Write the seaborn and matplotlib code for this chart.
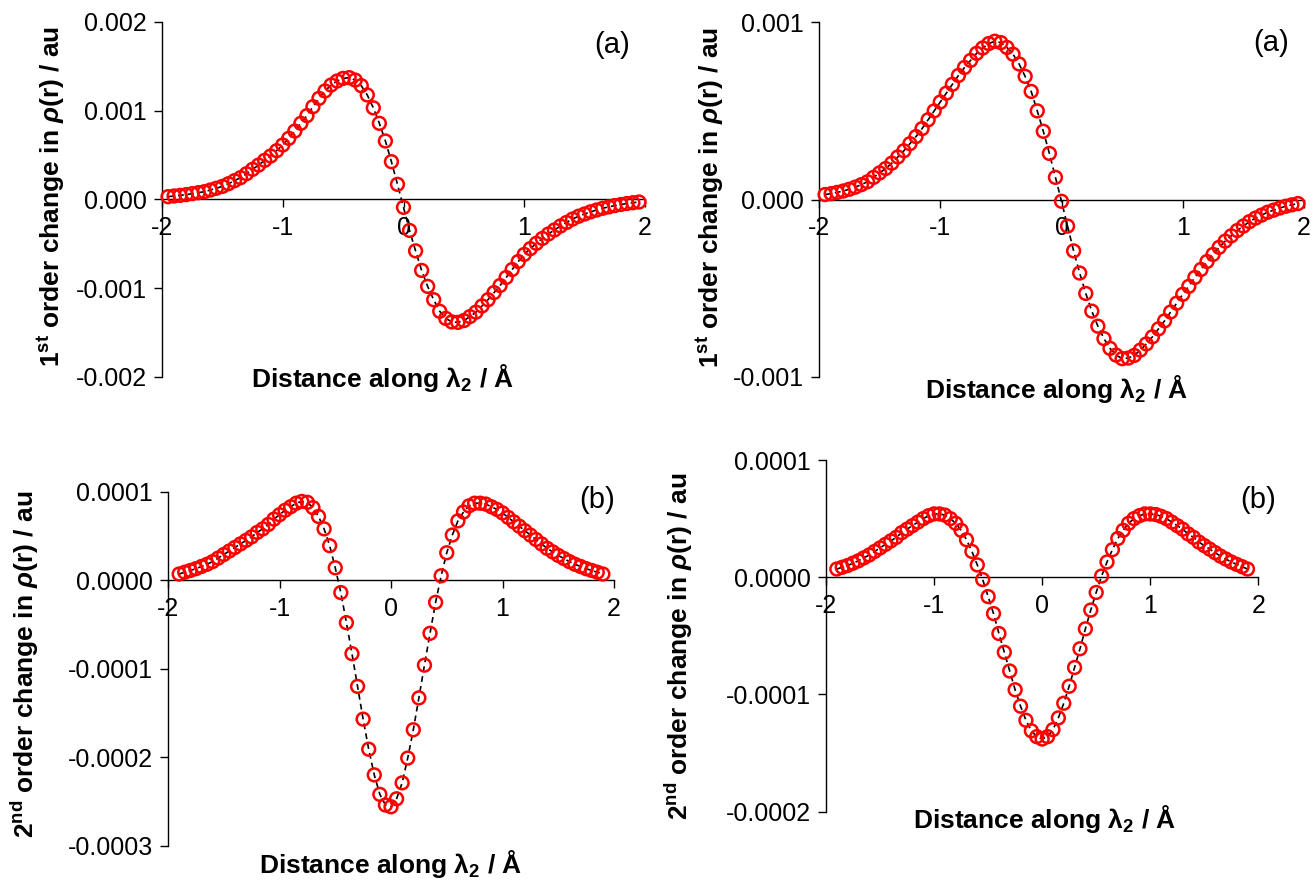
import numpy as np
import pandas as pd
import matplotlib
matplotlib.use("Agg")
import matplotlib.pyplot as plt
import seaborn as sns
from matplotlib.ticker import FormatStrFormatter

# ---------------------------------------------------------------------------
# Sample positions along lambda_2 (Angstrom)
x_first = np.round(np.linspace(-1.95, 1.95, 79), 2)
x_second = np.round(np.linspace(-1.90, 1.90, 77), 2)

# First-order change in rho(r), system A (units of 1e-3 au)
first_a = [
    0.030, 0.038, 0.045, 0.053, 0.064, 0.075, 0.086, 0.105, 0.125, 0.146,
    0.176, 0.210, 0.244, 0.289, 0.338, 0.386, 0.439, 0.488, 0.548, 0.612,
    0.687, 0.769, 0.856, 0.942, 1.043, 1.137, 1.220, 1.287, 1.332, 1.362,
    1.370, 1.343, 1.280, 1.175, 1.030, 0.856, 0.657, 0.424, 0.169, -0.090,
    -0.350, -0.580, -0.800, -0.980, -1.130, -1.260, -1.340, -1.380, -1.385, -1.365,
    -1.320, -1.270, -1.200, -1.130, -1.050, -0.970, -0.880, -0.790, -0.700, -0.620,
    -0.555, -0.495, -0.440, -0.390, -0.345, -0.300, -0.260, -0.222, -0.190, -0.165,
    -0.140, -0.120, -0.100, -0.085, -0.070, -0.058, -0.047, -0.038, -0.030,
]

# First-order change in rho(r), system B (units of 1e-3 au)
first_b = [
    0.028, 0.033, 0.040, 0.048, 0.058, 0.070, 0.084, 0.100, 0.125, 0.150,
    0.175, 0.205, 0.240, 0.275, 0.315, 0.355, 0.400, 0.450, 0.500, 0.550,
    0.600, 0.650, 0.700, 0.745, 0.785, 0.825, 0.855, 0.880, 0.893, 0.885,
    0.858, 0.820, 0.765, 0.695, 0.610, 0.500, 0.385, 0.260, 0.125, -0.010,
    -0.150, -0.290, -0.415, -0.530, -0.630, -0.715, -0.785, -0.840, -0.878, -0.898,
    -0.895, -0.880, -0.850, -0.815, -0.775, -0.730, -0.685, -0.635, -0.585, -0.535,
    -0.490, -0.440, -0.395, -0.350, -0.310, -0.270, -0.235, -0.205, -0.175, -0.150,
    -0.125, -0.105, -0.088, -0.072, -0.060, -0.048, -0.038, -0.030, -0.023,
]

# Second-order change in rho(r), system A (units of 1e-4 au)
second_a = [
    0.07, 0.09, 0.11, 0.13, 0.155, 0.18, 0.21, 0.25, 0.29, 0.33,
    0.37, 0.41, 0.45, 0.49, 0.54, 0.58, 0.63, 0.69, 0.74, 0.79,
    0.83, 0.87, 0.89, 0.88, 0.82, 0.72, 0.58, 0.39, 0.14, -0.14,
    -0.48, -0.83, -1.20, -1.57, -1.91, -2.20, -2.42, -2.54, -2.56, -2.47,
    -2.29, -2.01, -1.69, -1.33, -0.96, -0.60, -0.25, 0.05, 0.31, 0.51,
    0.67, 0.77, 0.84, 0.87, 0.87, 0.86, 0.83, 0.80, 0.76, 0.71,
    0.66, 0.61, 0.56, 0.51, 0.46, 0.41, 0.36, 0.32, 0.28, 0.245,
    0.21, 0.18, 0.155, 0.13, 0.11, 0.09, 0.07,
]

# Second-order change in rho(r), system B (units of 1e-4 au)
second_b = [
    0.07, 0.085, 0.10, 0.12, 0.14, 0.165, 0.19, 0.22, 0.25, 0.28,
    0.31, 0.34, 0.38, 0.41, 0.44, 0.47, 0.50, 0.525, 0.54, 0.54,
    0.53, 0.50, 0.46, 0.40, 0.32, 0.22, 0.105, -0.02, -0.165, -0.31,
    -0.48, -0.64, -0.80, -0.96, -1.10, -1.22, -1.31, -1.36, -1.38, -1.36,
    -1.30, -1.20, -1.075, -0.93, -0.77, -0.61, -0.44, -0.28, -0.13, 0.01,
    0.13, 0.235, 0.33, 0.40, 0.46, 0.50, 0.525, 0.54, 0.54, 0.535,
    0.52, 0.50, 0.47, 0.44, 0.41, 0.37, 0.34, 0.30, 0.27, 0.24,
    0.21, 0.18, 0.155, 0.13, 0.11, 0.09, 0.07,
]

x_ticks = [-2, -1, 0, 1, 2]
panel_letters = ["(a)", "(a)", "(b)", "(b)"]
ylabel_first = r"1$^\mathrm{st}$ order change in $\rho$(r) / au"
ylabel_second = r"2$^\mathrm{nd}$ order change in $\rho$(r) / au"
xlabel_text = r"Distance along λ$_\mathrm{2}$ / Å"

# ---------------------------------------------------------------------------
sns.set_style("ticks")
plt.rcParams["font.family"] = ["Liberation Sans", "DejaVu Sans"]
plt.rcParams["axes.unicode_minus"] = False
plt.rcParams["text.color"] = "black"
plt.rcParams["axes.labelcolor"] = "black"
plt.rcParams["xtick.color"] = "black"
plt.rcParams["ytick.color"] = "black"
plt.rcParams["mathtext.fontset"] = "custom"
plt.rcParams["mathtext.rm"] = "Liberation Sans:bold"
plt.rcParams["mathtext.it"] = "Liberation Sans:bold:italic"
plt.rcParams["mathtext.bf"] = "Liberation Sans:bold"

W, H = 1313, 881
fig = plt.figure(figsize=(W / 100, H / 100), dpi=100)
fig.patch.set_facecolor("white")


def px_rect(left, top, right, bottom):
    return [left / W, 1 - bottom / H, (right - left) / W, (bottom - top) / H]


def fx(px):
    return px / W


def fy(py):
    return 1 - py / H


def draw_panel(rect, x, y, scale, ylim, yticks, fmt, letter, letter_xy,
               ylab, ylab_xy, xlab_xy):
    ax = fig.add_axes(rect)
    df = pd.DataFrame({"dist": x, "rho": np.asarray(y) * scale})
    sns.lineplot(data=df, x="dist", y="rho", ax=ax, color="black",
                 linewidth=1.2, linestyle=(0, (3.5, 2.5)), estimator=None,
                 zorder=2)
    sns.scatterplot(data=df, x="dist", y="rho", ax=ax, marker="o", s=85,
                    facecolor="none", edgecolor="#ff0000", linewidth=1.8,
                    zorder=3, clip_on=False)
    ax.set_xlim(-2, 2)
    ax.set_ylim(*ylim)
    ax.set_xticks(x_ticks)
    ax.set_yticks(yticks)
    ax.yaxis.set_major_formatter(FormatStrFormatter(fmt))
    ax.xaxis.set_major_formatter(FormatStrFormatter("%d"))
    ax.spines["top"].set_visible(False)
    ax.spines["right"].set_visible(False)
    ax.spines["bottom"].set_position(("data", 0))
    for s in ("left", "bottom"):
        ax.spines[s].set_linewidth(1.0)
        ax.spines[s].set_color("black")
    ax.tick_params(axis="both", direction="out", length=6, width=1.0,
                   labelsize=18, colors="black")
    ax.tick_params(axis="x", pad=6)
    ax.tick_params(axis="y", pad=5)
    ax.set_xlabel("")
    ax.set_ylabel("")
    ax.set_facecolor("none")
    fig.text(fx(letter_xy[0]), fy(letter_xy[1]), letter, fontsize=21,
             ha="center", va="center", color="black")
    fig.text(fx(ylab_xy[0]), fy(ylab_xy[1]), ylab, fontsize=19,
             fontweight="bold", rotation=90, ha="center", va="center",
             color="black")
    fig.text(fx(xlab_xy[0]), fy(xlab_xy[1]), xlabel_text, fontsize=19,
             fontweight="bold", ha="center", va="baseline", color="black")
    return ax


draw_panel(px_rect(162, 21.7, 645, 377), x_first, first_a, 1e-3,
           (-0.002, 0.002), [-0.002, -0.001, 0.0, 0.001, 0.002], "%.3f",
           panel_letters[0], (612, 45), ylabel_first, (51, 196), (383, 387))

draw_panel(px_rect(819, 22.3, 1304, 376.7), x_first, first_b, 1e-3,
           (-0.001, 0.001), [-0.001, 0.0, 0.001], "%.3f",
           panel_letters[1], (1271, 43), ylabel_first, (710, 197), (1057, 398))

draw_panel(px_rect(168, 491.7, 614, 845.7), x_second, second_a, 1e-4,
           (-0.0003, 0.0001), [-0.0003, -0.0002, -0.0001, 0.0, 0.0001], "%.4f",
           panel_letters[2], (597, 500), ylabel_second, (25, 664), (391, 873))

draw_panel(px_rect(826, 460, 1258.3, 811.7), x_second, second_b, 1e-4,
           (-0.0002, 0.0001), [-0.0002, -0.0001, 0.0, 0.0001], "%.4f",
           panel_letters[3], (1258, 500), ylabel_second, (679, 646), (1045, 828))

fig.savefig("out.png", dpi=100, facecolor="white")
